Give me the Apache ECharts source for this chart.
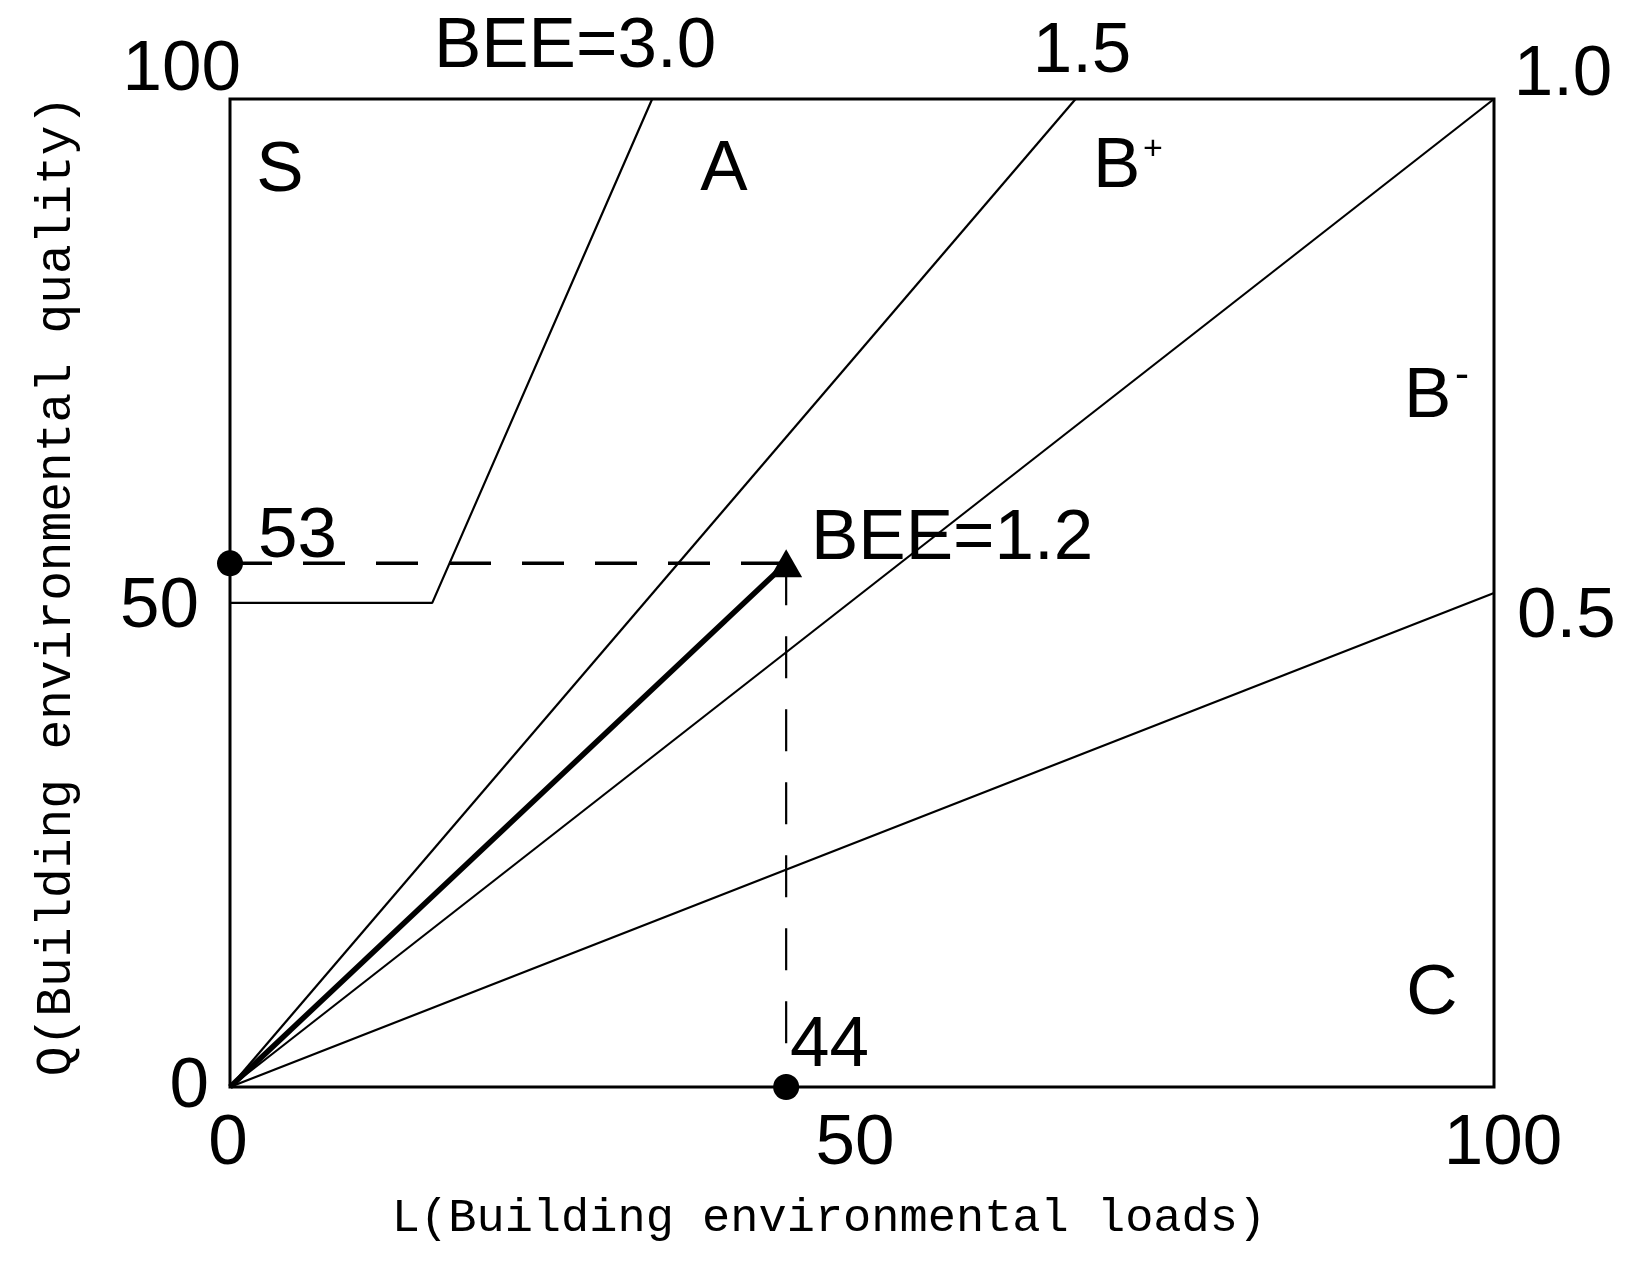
<!DOCTYPE html>
<html>
<head>
    <meta charset="utf-8"/>
    <script src="https://cdn.jsdelivr.net/npm/echarts@6/dist/echarts.min.js"></script>
    <style>html,body{margin:0;padding:0;background:#fff;}</style>
</head>
<body>
<div id="main" style="width:1640px;height:1267px;"></div>
<script type="text/javascript">
    var chartDom = document.getElementById('main');
    var myChart = echarts.init(chartDom);
    var option;

    // BEE boundary lines, [L, Q]
    var bee30 = [[0, 49], [16, 49], [33.4, 100]];
    var bee15 = [[0, 0], [66.9, 100]];
    var bee10 = [[0, 0], [100, 100]];
    var bee05 = [[0, 0], [100, 50]];
    // evaluated building
    var result = [[0, 0], [44, 53]];
    var guideQ = [[0, 53], [44, 53]];
    var guideL = [[44, 53], [44, 0]];
    var footDots = [[0, 53], [44, 0]];

    var xTicks = ['0', '50', '100'];
    var yTicks = ['0', '50', '100'];

    var sans = '"Liberation Sans", Arial, sans-serif';
    var mono = '"Liberation Mono", monospace';
    var fs = 71;

    function thin(data, w) {
        return {
            type: 'line', data: data, symbol: 'none', silent: true,
            lineStyle: { color: '#000', width: w || 2.2 }
        };
    }

    function txt(x, y, s, align, size) {
        return {
            type: 'text', x: x, y: y, silent: true,
            style: {
                text: s, fill: '#000', font: (size || fs) + 'px ' + sans,
                align: align || 'center', verticalAlign: 'middle'
            }
        };
    }

    option = {
        animation: false,
        backgroundColor: '#fff',
        grid: {
            left: 230, right: 146, top: 99, bottom: 180,
            show: true, borderColor: '#000', borderWidth: 3
        },
        xAxis: {
            type: 'value', min: 0, max: 100, interval: 50,
            axisLine: { show: false }, axisTick: { show: false }, splitLine: { show: false },
            axisLabel: {
                margin: 22, color: '#000', fontFamily: sans, fontSize: fs,
                formatter: function (v) {
                    var i = v / 50;
                    return '{t' + i + '|' + xTicks[i] + '}';
                },
                rich: {
                    t0: { fontFamily: sans, fontSize: fs, color: '#000', padding: [0, 4, 0, 0] },
                    t1: { fontFamily: sans, fontSize: fs, color: '#000', padding: [0, 14, 0, 0] },
                    t2: { fontFamily: sans, fontSize: fs, color: '#000', padding: [0, 0, 0, 18] }
                }
            },
            name: 'L(Building environmental loads)',
            nameLocation: 'middle', nameGap: 108,
            nameTextStyle: { fontFamily: mono, fontSize: 47, color: '#000', padding: [0, 66, 0, 0] }
        },
        yAxis: {
            type: 'value', min: 0, max: 100, interval: 50,
            axisLine: { show: false }, axisTick: { show: false }, splitLine: { show: false },
            axisLabel: {
                margin: -11, color: '#000', fontFamily: sans, fontSize: fs,
                formatter: function (v) {
                    var i = v / 50;
                    return '{t' + i + '|' + yTicks[i] + '}';
                },
                rich: {
                    t0: { fontFamily: sans, fontSize: fs, color: '#000', padding: [0, 32, 0, 0] },
                    t1: { fontFamily: sans, fontSize: fs, color: '#000', padding: [28, 42, 0, 0] },
                    t2: { fontFamily: sans, fontSize: fs, color: '#000', padding: [0, 0, 57, 0] }
                }
            },
            name: 'Q(Building environmental quality)',
            nameLocation: 'middle', nameGap: 148, nameRotate: 90,
            nameTextStyle: { fontFamily: mono, fontSize: 49.5, color: '#000', padding: [0, 0, 0, 14] }
        },
        series: [
            thin(bee30), thin(bee15), thin(bee10), thin(bee05),
            {
                type: 'line', data: guideQ, symbol: 'none', silent: true,
                lineStyle: { color: '#000', width: 3.5, type: [42, 31] }
            },
            {
                type: 'line', data: guideL, symbol: 'none', silent: true,
                lineStyle: { color: '#000', width: 2.2, type: [42, 31] }
            },
            thin(result, 5.5),
            {
                type: 'scatter', data: footDots, symbol: 'circle', symbolSize: 26,
                clip: false, silent: true, itemStyle: { color: '#000', opacity: 1 }
            },
            {
                type: 'scatter', data: [result[1]], symbol: 'triangle', symbolSize: [32, 28],
                clip: false, silent: true, itemStyle: { color: '#000', opacity: 1 }
            }
        ],
        graphic: [
            txt(575, 47, 'BEE=3.0'),
            txt(1082, 52, '1.5'),
            txt(1563, 75, '1.0'),
            txt(280, 171, 'S'),
            txt(724, 170, 'A'),
            txt(1093, 167, 'B', 'left'),
            txt(1153, 150, '+', 'center', 34),
            txt(1404, 397, 'B', 'left'),
            txt(1462, 376, '-', 'center', 42),
            txt(1432, 994, 'C'),
            txt(258, 537, '53', 'left'),
            txt(811, 539, 'BEE=1.2', 'left'),
            txt(1517, 617, '0.5', 'left'),
            txt(790, 1046, '44', 'left')
        ]
    };

    option && myChart.setOption(option);
</script>
</body>
</html>
